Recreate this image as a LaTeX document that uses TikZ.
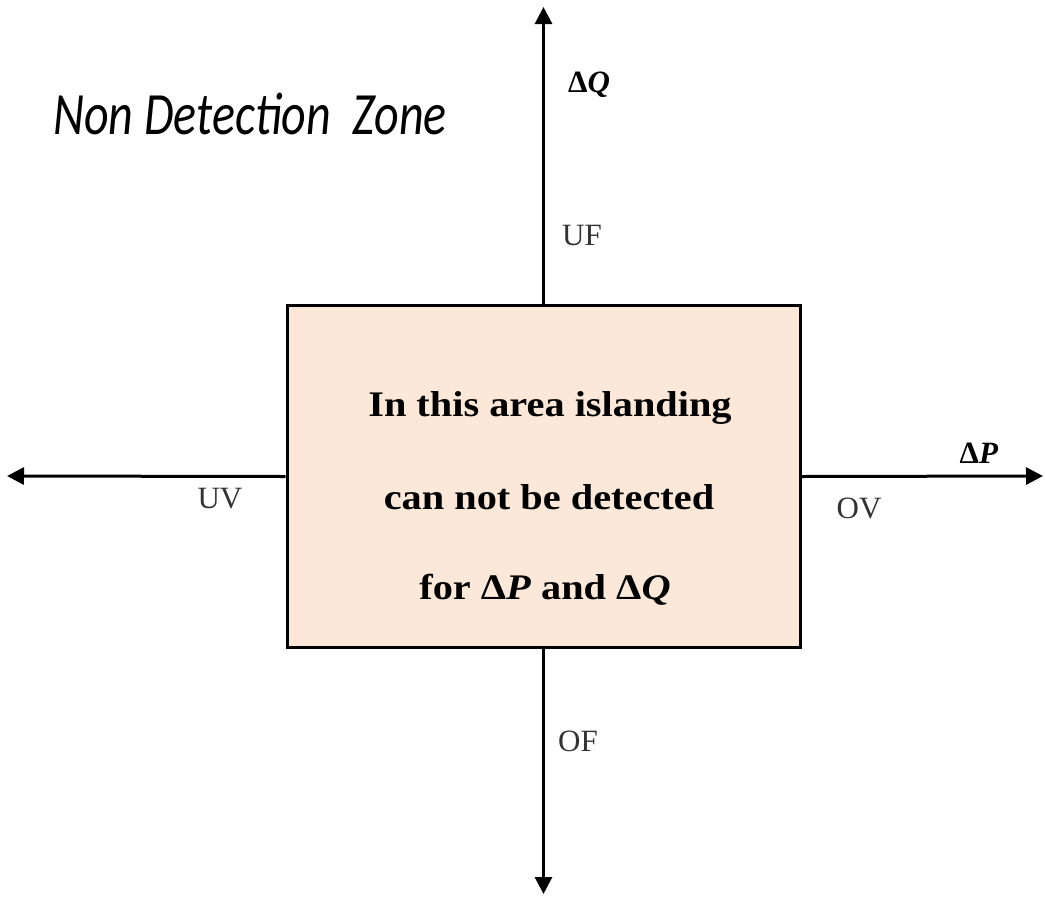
\documentclass[tikz,border=0pt]{standalone}
\usepackage{fontspec}
\setmainfont{Liberation Serif}
\newfontfamily\ndzfont{Carlito}
\usetikzlibrary{arrows.meta}
\definecolor{peach}{RGB}{252,232,216}
\definecolor{labelgray}{RGB}{50,50,50}
\begin{document}
\begin{tikzpicture}[x=1pt,y=-1pt,
  axis/.style={line width=3pt,-{Triangle[length=17pt,width=17pt]}},
  zonebox/.style={draw=black,line width=3pt,fill=peach,minimum width=513pt,minimum height=342pt,inner sep=0pt},
  axlabel/.style={font=\fontsize{31}{36}\selectfont,text=labelgray,inner sep=0pt},
  dlabel/.style={font=\fontsize{31}{36}\selectfont\bfseries,inner sep=0pt},
  boxtext/.style={font=\fontsize{36}{42}\selectfont\bfseries,inner sep=0pt}]
\useasboundingbox (0,0) rectangle (1045,898);
\node[zonebox] (box) at (543.5,476.5) {};
\coordinate (top) at (543.5,7);
\coordinate (bot) at (543.5,894);
\coordinate (left) at (7,476);
\coordinate (right) at (1043,476);
\draw[axis] (box.north) -- (top);
\draw[axis] (box.south) -- (bot);
\draw[axis] (box.west) -- (left);
\draw[axis] (box.east) -- (right);
\node[boxtext] (t1) at (550,408) {\scalebox{1.12}[1]{In this area islanding}};
\node[boxtext] (t2) at (549,497) {\scalebox{1.12}[1]{can not be detected}};
\node[boxtext] (t3) at (545,590) {\scalebox{1.12}[1]{for Δ\textit{P} and Δ\textit{Q}}};
\node[dlabel] (dq) at (589,85) {Δ\textit{Q}};
\node[dlabel] (dp) at (979,453) {Δ\textit{P}};
\node[axlabel] (uf) at (582,235) {UF};
\node[axlabel] (of) at (578,741) {OF};
\node[axlabel] (uv) at (220,499) {UV};
\node[axlabel] (ov) at (859,508) {OV};
\node[inner sep=0pt] (ndz) at (250,114) {\scalebox{0.8}[1]{\ndzfont\itshape\fontsize{60}{70}\selectfont Non Detection\ \ Zone}};
\end{tikzpicture}
\end{document}
